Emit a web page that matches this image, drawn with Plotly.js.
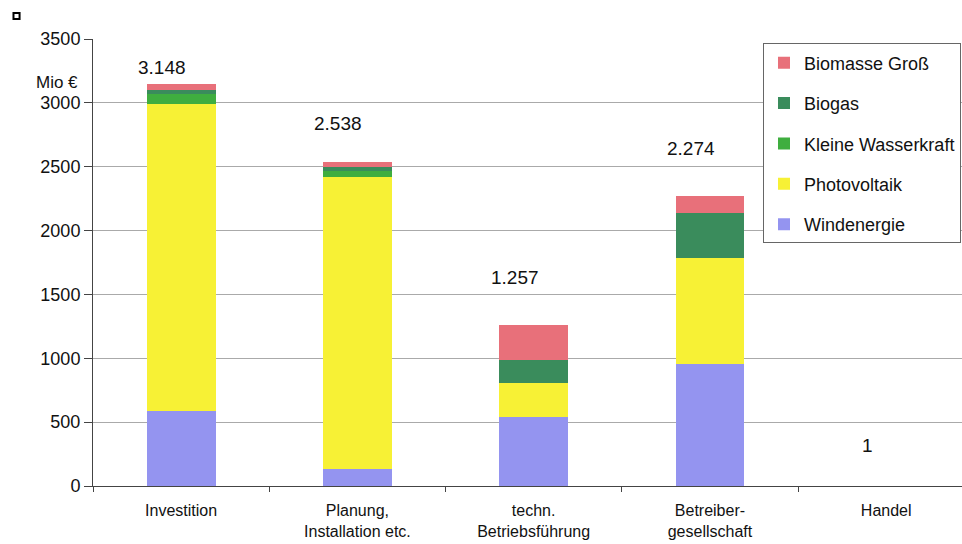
<!DOCTYPE html>
<html>
<head>
<meta charset="utf-8">
<script src="https://cdn.plot.ly/plotly-3.0.1.min.js"></script>
<style>html,body{margin:0;padding:0;background:#fff;}#chart{width:962px;height:544px;}</style>
</head>
<body>
<div id="chart"></div>
<script>
const categories = ["Investition", "Planung,<br>Installation etc.", "techn.<br>Betriebsführung", "Betreiber-<br>gesellschaft", "Handel"];
const windenergie = [590, 133, 540, 955, 1];
const photovoltaik = [2405, 2290, 268, 830, 0];
const kleineWasserkraft = [78, 45, 0, 0, 0];
const biogas = [27, 30, 177, 352, 0];
const biomasseGross = [48, 40, 272, 137, 0];
const totalLabels = ["3.148", "2.538", "1.257", "2.274", "1"];
const totalValues = [3148, 2538, 1257, 2274, 1];

const seriesNames = ["Windenergie", "Photovoltaik", "Kleine Wasserkraft", "Biogas", "Biomasse Groß"];
const seriesData = [windenergie, photovoltaik, kleineWasserkraft, biogas, biomasseGross];
const seriesColors = ["#9494f0", "#f7f135", "#3fae3f", "#3a8c5c", "#e8707a"];

const traces = seriesNames.map((n, i) => ({
  type: "bar",
  name: n,
  x: categories,
  y: seriesData[i],
  marker: {color: seriesColors[i], line: {width: 0}},
  width: 0.39,
  legendgroup: "g" + i,
  legendrank: 1000 - i,
  hoverinfo: "skip"
}));

const labelOffsets = [125, 297, 372, 365, 320];
const annotations = categories.map((c, i) => ({
  x: c, y: totalValues[i] + labelOffsets[i], xref: "x", yref: "y",
  text: totalLabels[i], showarrow: false, xshift: -19,
  font: {family: "Liberation Sans, Arial, sans-serif", size: 19, color: "#111"}
}));
annotations.push({
  x: -0.015, y: 0.903, xref: "paper", yref: "paper", text: "Mio €", showarrow: false,
  xanchor: "right", yanchor: "middle",
  font: {family: "Liberation Sans, Arial, sans-serif", size: 17, color: "#111"}
});

const layout = {
  width: 962, height: 544,
  margin: {l: 93, r: 0, t: 39, b: 58},
  paper_bgcolor: "#fff", plot_bgcolor: "#fff",
  barmode: "stack",
  showlegend: true,
  legend: {
    x: 0.771, y: 0.99, xanchor: "left", yanchor: "top",
    bgcolor: "#fff", bordercolor: "#666", borderwidth: 1,
    traceorder: "grouped", tracegroupgap: 14,
    font: {family: "Liberation Sans, Arial, sans-serif", size: 18, color: "#111"}
  },
  xaxis: {
    type: "category", range: [-0.5, 4.43],
    showline: true, linecolor: "#444", linewidth: 1,
    ticks: "outside", tickson: "boundaries", ticklen: 5, tickcolor: "#444",
    showgrid: false, ticklabelstandoff: 10,
    tickfont: {family: "Liberation Sans Narrow, Arial Narrow, Liberation Sans, sans-serif", size: 16, color: "#111"}
  },
  yaxis: {
    range: [0, 3500], dtick: 500, tick0: 0,
    showline: true, linecolor: "#444", linewidth: 1,
    ticks: "outside", ticklen: 8, tickcolor: "#444",
    showgrid: true, gridcolor: "#aaa", gridwidth: 1,
    zeroline: false,
    tickfont: {family: "Liberation Sans, Arial, sans-serif", size: 18, color: "#111"}
  },
  annotations: annotations,
  shapes: [{
    type: "rect", xref: "paper", yref: "paper",
    x0: -0.0915, x1: -0.0845, y0: 1.045, y1: 1.058,
    line: {color: "#000", width: 2}, fillcolor: "rgba(0,0,0,0)"
  }]
};

Plotly.newPlot("chart", traces, layout, {displayModeBar: false, staticPlot: true});
</script>
</body>
</html>
